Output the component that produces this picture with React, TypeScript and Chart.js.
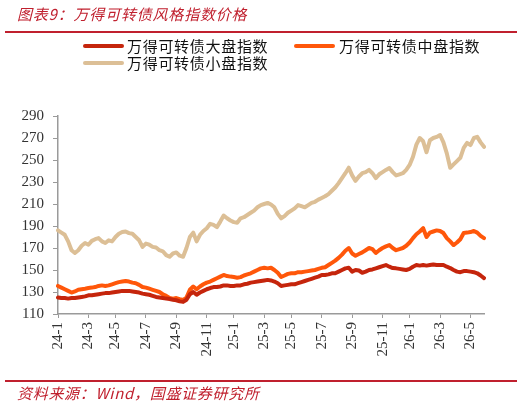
import React, { useEffect, useRef } from "react";
import { Chart, registerables } from "chart.js";

Chart.register(...registerables);

// Weekly observation dates (Mondays) from 2024-01-01
const START_DATE = "2024-01-01";
const WEEKS = 127;

const seriesNames = ["万得可转债大盘指数", "万得可转债中盘指数", "万得可转债小盘指数"];

const largeCap = [
  125, 124.5, 124.5, 124, 124.5, 124.5, 125, 125.5, 126, 127,
  127, 127.5, 128, 128.5, 129, 129, 129.5, 130, 130.5, 131,
  131, 131, 130.5, 130, 129.5, 128.5, 128, 127.5, 126.5, 125.5,
  125, 124.5, 124, 123.6, 123, 122.5, 121.5, 121, 123, 128,
  130, 127.5, 129.5, 131, 132.5, 133.6, 134.5, 134.5, 135, 136,
  136, 135.5, 135.5, 136, 136, 137, 137.5, 138.5, 139, 139.5,
  140, 140.5, 141, 140.5, 139.5, 138, 135.5, 136, 136.5, 137,
  137, 138, 139, 140, 141, 142, 143, 144, 145.5, 145.5,
  146, 147, 147, 148.5, 150, 151.5, 152, 148.5, 150, 149.5,
  147.5, 148.5, 150, 150.5, 151.5, 152.5, 153.5, 154.5, 153, 151.8,
  151.5, 151, 150.5, 150, 151, 153, 154.5, 154, 154.5, 154,
  154.5, 155, 154.5, 154.5, 154.5, 153, 151.8, 150, 148.5, 148,
  149, 149, 148.5, 148, 147, 145, 142.7,
];

const midCap = [
  135.5, 134, 132.5, 131, 129.5, 130.5, 132, 132.5, 133, 133.6,
  134, 134.5, 135.5, 136, 135.5, 136, 137, 138, 139, 139.5,
  140, 139.5, 138.5, 138, 136.5, 134.5, 134, 133, 132, 131,
  130, 128, 126.5, 124.5, 124, 124.5, 123.5, 122.7, 125, 132,
  135, 132.5, 135, 137, 138.5, 139.5, 141, 142.5, 144, 145.5,
  144.5, 144, 143.6, 143, 143.5, 145, 146, 147, 148.5, 150,
  151.5, 152, 151.5, 152, 150, 147.5, 143.6, 145, 146.5, 147,
  147, 148, 148, 148.5, 149, 149.5, 150, 151, 152, 152.5,
  154.5, 156.5, 158.5, 161, 164, 167.5, 170, 165, 163, 164.5,
  166, 168, 170, 169, 165.5, 168, 170, 171.5, 172.7, 170,
  168, 169, 170, 172, 175, 179, 182.5, 185, 188, 180,
  184, 185, 186, 185.5, 183.6, 179, 176, 172.7, 175, 178,
  183.6, 184, 184.5, 185.5, 184, 181, 179,
];

const smallCap = [
  186, 184, 182, 176, 168, 165.5, 168, 172, 174.5, 173,
  176.5, 178, 179, 176, 174.5, 177, 176, 180, 183, 184.5,
  185, 183.5, 183, 180, 177, 171, 174, 173, 171, 170.5,
  168, 167, 163.5, 162, 165, 166, 163, 162, 170, 180,
  184, 176, 182, 185.5, 188, 192, 191, 189, 194, 199.5,
  197, 195, 193.5, 193, 197, 198, 200, 202, 204, 207,
  209, 210, 211, 209.5, 207, 201, 197, 199, 202, 204,
  206, 209, 208, 207, 209, 211, 212, 214, 215.5, 217,
  219, 222, 225, 229, 233.5, 238, 243, 236, 231, 235,
  238, 239, 241, 238, 233.6, 237, 239, 241, 242.7, 239,
  236, 237, 238, 241, 245.5, 253, 264, 270, 267, 257,
  268, 270, 271, 272.7, 266, 256, 243, 246, 249, 252,
  261, 265.5, 263.6, 270, 271, 266, 262,
];

const yTicks = { min: 110, max: 290, step: 20 };

const colors = ["#c5250c", "#ff570a", "#dcbf96"];

function buildDates(): Date[] {
  const [y, m, d] = START_DATE.split("-").map(Number);
  const base = Date.UTC(y, m - 1, d);
  const out: Date[] = [];
  for (let i = 0; i < WEEKS; i++) out.push(new Date(base + i * 7 * 86400000));
  return out;
}

function tickLabelFor(dt: Date): string {
  const day = dt.getUTCDate();
  let yr = dt.getUTCFullYear();
  const mo = dt.getUTCMonth(); // 0-based
  const dim = new Date(Date.UTC(yr, mo + 1, 0)).getUTCDate();
  let target: number | null = null;
  if (day <= 4) target = mo;
  else if (day >= dim - 2) {
    target = mo + 1;
    if (target > 11) {
      target = 0;
      yr += 1;
    }
  }
  if (target === null) return "";
  if ((target + 1) % 2 !== 1) return "";
  return `${String(yr).slice(2)}-${target + 1}`;
}

export default function App() {
  const canvasRef = useRef<HTMLCanvasElement | null>(null);

  useEffect(() => {
    const dates = buildDates();
    const labels = dates.map((d) => d.toISOString().slice(0, 10));
    const tickLabels = dates.map(tickLabelFor);
    const ctx = canvasRef.current!.getContext("2d")!;
    const chart = new Chart(ctx, {
      type: "line",
      data: {
        labels,
        datasets: [largeCap, midCap, smallCap].map((vals, i) => ({
          label: seriesNames[i],
          data: vals,
          borderColor: colors[i],
          backgroundColor: colors[i],
          borderWidth: 4,
          pointRadius: 0,
          tension: 0,
          borderJoinStyle: "round" as const,
          borderCapStyle: "round" as const,
        })),
      },
      options: {
        animation: false,
        responsive: false,
        devicePixelRatio: 1,
        layout: { padding: { top: 116, right: 41, left: 0, bottom: 0 } },
        plugins: {
          legend: { display: false },
          tooltip: { enabled: false },
          title: { display: false },
        },
        scales: {
          x: {
            type: "category",
            offset: false,
            border: { display: true, color: "#9a9a9a", width: 1.5 },
            grid: {
              display: true,
              drawOnChartArea: false,
              drawTicks: true,
              tickLength: 4,
              tickColor: (c: any) => (c.tick && c.tick.label ? "#9a9a9a" : "rgba(0,0,0,0)"),
            },
            ticks: {
              autoSkip: false,
              minRotation: 90,
              maxRotation: 90,
              padding: 4,
              color: "#333",
              font: { family: "'Liberation Serif', 'Times New Roman', serif", size: 15 },
              callback: (_v: any, i: number) => tickLabels[i],
            },
            afterFit: (s: any) => {
              s.height = 92;
              s.paddingLeft = 0;
              s.paddingRight = 0;
            },
          },
          y: {
            min: yTicks.min,
            max: yTicks.max,
            border: { display: true, color: "#9a9a9a", width: 1.5 },
            grid: { display: true, drawOnChartArea: false, drawTicks: true, tickLength: 5, tickColor: "#9a9a9a" },
            ticks: {
              stepSize: yTicks.step,
              padding: 9,
              color: "#333",
              font: { family: "'Liberation Serif', 'Times New Roman', serif", size: 15 },
            },
            afterFit: (s: any) => {
              s.width = 58;
              s.paddingTop = 0;
              s.paddingBottom = 0;
            },
          },
        },
      },
    });
    return () => chart.destroy();
  }, []);

  const cjk = "'Noto Sans CJK SC', 'Noto Sans', sans-serif";
  const legendText: React.CSSProperties = {
    position: "absolute",
    fontFamily: cjk,
    fontSize: 15,
    letterSpacing: 0.7,
    color: "#111",
    lineHeight: "18px",
    whiteSpace: "nowrap",
  };
  const lineSample = (left: number, top: number, color: string): React.CSSProperties => ({
    position: "absolute",
    left,
    top: top - 2,
    width: 41,
    height: 4,
    borderRadius: 2,
    background: color,
  });

  return (
    <div style={{ position: "absolute", left: 0, top: 0, width: 525, height: 406, background: "#fff", overflow: "hidden" }}>
      <canvas ref={canvasRef} width={525} height={406} style={{ position: "absolute", left: 0, top: 0 }} />
      <div
        style={{
          position: "absolute",
          left: 17,
          top: 4,
          fontFamily: cjk,
          fontStyle: "italic",
          fontSize: 15,
          letterSpacing: 0.8,
          color: "#c0202e",
          whiteSpace: "nowrap",
          lineHeight: "20px",
        }}
      >
        图表9：万得可转债风格指数价格
      </div>
      <div style={{ position: "absolute", left: 5, top: 31, width: 512, height: 2, background: "#c0202e" }} />
      <div style={lineSample(83, 46, colors[0])} />
      <div style={{ ...legendText, left: 127, top: 37 }}>{seriesNames[0]}</div>
      <div style={lineSample(294, 46, colors[1])} />
      <div style={{ ...legendText, left: 339, top: 37 }}>{seriesNames[1]}</div>
      <div style={lineSample(83, 63, colors[2])} />
      <div style={{ ...legendText, left: 127, top: 54 }}>{seriesNames[2]}</div>
      <div style={{ position: "absolute", left: 5, top: 380, width: 512, height: 2, background: "#c0202e" }} />
      <div
        style={{
          position: "absolute",
          left: 17,
          top: 383,
          fontFamily: cjk,
          fontStyle: "italic",
          fontSize: 15,
          letterSpacing: 0.7,
          color: "#c0202e",
          whiteSpace: "nowrap",
          lineHeight: "20px",
        }}
      >
        资料来源：Wind，国盛证券研究所
      </div>
    </div>
  );
}
